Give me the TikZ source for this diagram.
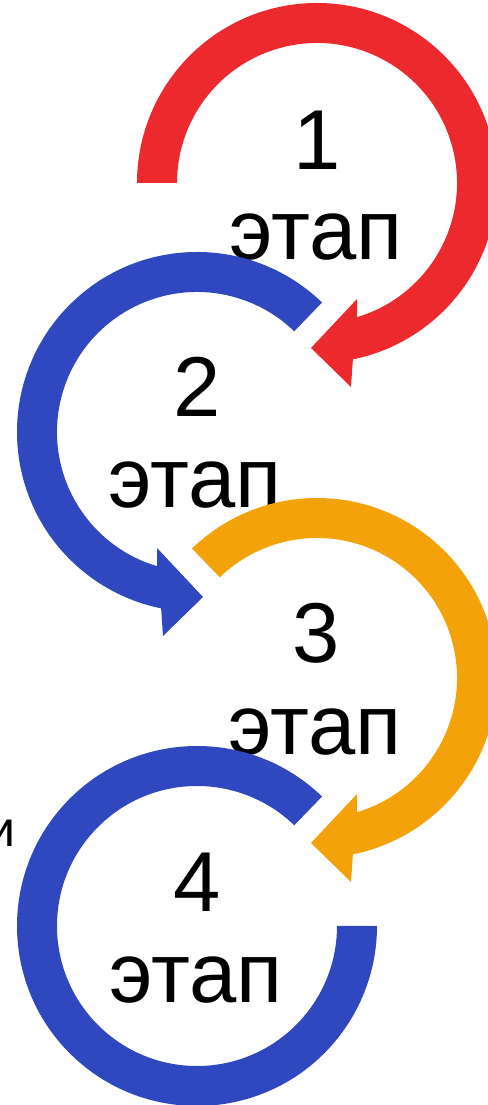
\documentclass[tikz,border=0pt]{standalone}
\usepackage{fontspec}
\setmainfont{Liberation Sans}
\usetikzlibrary{calc}
\definecolor{cred}{HTML}{EC2A2E}
\definecolor{cblue}{HTML}{2F48BF}
\definecolor{corange}{HTML}{F4A20A}
% clockwise arrow, head at lower left: #1 colour, #2 centre, #3 start angle
\newcommand{\cwarrow}[3]{%
  \fill[#1] ($(#2)+(#3:180pt)$) arc[start angle=#3,end angle=-78.5,radius=180pt]
    -- ($(#2)+(34,-204)$) -- ($(#2)+(-6,-165)$) -- ($(#2)+(40,-116)$)
    -- ($(#2)+(-73.4:140pt)$) arc[start angle=-73.4,end angle=#3,radius=140pt] -- cycle;}
% counter-clockwise arrow, head at lower right
\newcommand{\ccwarrow}[3]{%
  \fill[#1] ($(#2)+(#3:180pt)$) arc[start angle=#3,end angle=258.5,radius=180pt]
    -- ($(#2)+(-34,-204)$) -- ($(#2)+(6,-165)$) -- ($(#2)+(-40,-116)$)
    -- ($(#2)+(253.4:140pt)$) arc[start angle=253.4,end angle=#3,radius=140pt] -- cycle;}
\begin{document}
\begin{tikzpicture}[x=1pt,y=1pt,
  lbl/.style={inner sep=0pt,anchor=base,font=\fontsize{85}{90}\selectfont}]
\useasboundingbox (0,0) rectangle (487,1105);
\coordinate (c1) at (317,922);
\coordinate (c2) at (197,673);
\coordinate (c3) at (317,427);
\coordinate (c4) at (197,179);
% left edge fragment
\node[inner sep=0pt,anchor=base east,font=\fontsize{50}{54}\selectfont] (frag) at (16,258) {и};
% stage 1
\cwarrow{cred}{c1}{180}
\node[lbl] (n1) at (317,935) {1};
\node[lbl] (t1) at (316,845) {этап};
% stage 2
\ccwarrow{cblue}{c2}{46}
\node[lbl] (n2) at (197,688) {2};
\node[lbl] (t2) at (195,597) {этап};
% stage 3
\cwarrow{corange}{c3}{134}
\node[lbl] (n3) at (316,442) {3};
\node[lbl] (t3) at (315,350) {этап};
% stage 4
\fill[cblue] ($(c4)+(46:180pt)$) arc[start angle=46,end angle=360,radius=180pt]
  -- ($(c4)+(0:140pt)$) arc[start angle=360,end angle=46,radius=140pt] -- cycle;
\node[lbl] (n4) at (197,193) {4};
\node[lbl] (t4) at (196,102) {этап};
\end{tikzpicture}
\end{document}
